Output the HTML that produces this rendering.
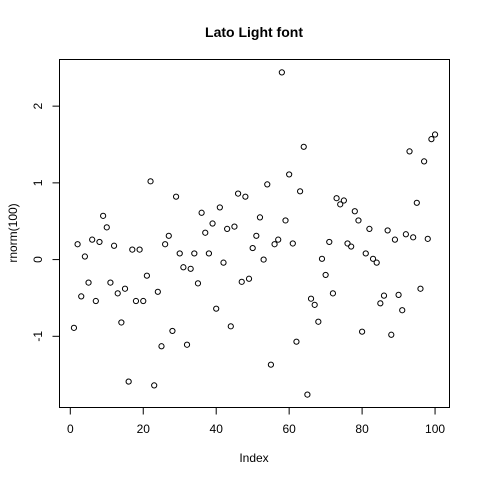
<!DOCTYPE html>
<html><head><meta charset="utf-8"><style>body{margin:0;background:#fff}svg{display:block}text{font-family:"Liberation Sans",Arial,sans-serif;fill:#000}</style></head>
<body>
<svg id="chart" width="480" height="480">
<rect width="480" height="480" fill="#fff"/>
<text x="254" y="37" text-anchor="middle" font-size="14" font-weight="bold">Lato Light font</text>
<rect x="59.5" y="59.5" width="390" height="348" fill="none" stroke="#000"/>
<text x="254" y="462" text-anchor="middle" font-size="12">Index</text>
<text transform="translate(17,233) rotate(-90)" text-anchor="middle" font-size="12">rnorm(100)</text>
<g id="axes"></g><g id="pts"></g>
</svg>
<script>
const values=[-0.89,0.2,-0.48,0.04,-0.3,0.26,-0.54,0.23,0.57,0.42,-0.3,0.18,-0.44,-0.82,-0.38,-1.59,0.13,-0.54,0.13,-0.54,-0.21,1.02,-1.64,-0.42,-1.13,0.2,0.31,-0.93,0.82,0.08,-0.1,-1.11,-0.12,0.08,-0.31,0.61,0.35,0.08,0.47,-0.64,0.68,-0.04,0.4,-0.87,0.43,0.86,-0.29,0.82,-0.25,0.15,0.31,0.55,0,0.98,-1.37,0.2,0.26,2.44,0.51,1.11,0.21,-1.07,0.89,1.47,-1.76,-0.51,-0.59,-0.81,0.01,-0.2,0.23,-0.44,0.8,0.72,0.77,0.21,0.17,0.63,0.51,-0.94,0.08,0.4,0.01,-0.04,-0.57,-0.47,0.38,-0.98,0.26,-0.46,-0.66,0.33,1.41,0.29,0.74,-0.38,1.28,0.27,1.57,1.63];
const xTicks=[0,20,40,60,80,100];
const yTicks=[-1,0,1,2];
const NS="http://www.w3.org/2000/svg";
const n=values.length;
const xmin=1-(n-1)*0.04,xmax=n+(n-1)*0.04;
const vmin=Math.min(...values),vmax=Math.max(...values),pad=(vmax-vmin)*0.04;
const ymin=vmin-pad,ymax=vmax+pad;
const X=v=>59.5+(v-xmin)/(xmax-xmin)*390;
const Y=v=>407.5-(v-ymin)/(ymax-ymin)*348;
const axes=document.getElementById('axes'),pts=document.getElementById('pts');
function mk(t,a,p){const e=document.createElementNS(NS,t);for(const k in a)e.setAttribute(k,a[k]);p.appendChild(e);return e;}
mk('line',{x1:X(xTicks[0]),x2:X(xTicks[xTicks.length-1]),y1:407.5,y2:407.5,stroke:'#000'},axes);
xTicks.forEach(t=>{
 const l=mk('line',{x1:X(t),x2:X(t),y1:407.5,y2:414.5,stroke:'#000'},axes);
 
 
 const tx=mk('text',{x:X(t),y:433,'text-anchor':'middle','font-size':12},axes);tx.textContent=t;
 
 
});
mk('line',{x1:59.5,x2:59.5,y1:Y(yTicks[0]),y2:Y(yTicks[yTicks.length-1]),stroke:'#000'},axes);
yTicks.forEach(t=>{
 const l=mk('line',{x1:52.5,x2:59.5,y1:Y(t),y2:Y(t),stroke:'#000'},axes);
 
 
 const tx=mk('text',{transform:`translate(42,${Y(t)}) rotate(-90)`,'text-anchor':'middle','font-size':12},axes);tx.textContent=t;
 
 
});
values.forEach((v,i)=>{
 const c=mk('circle',{cx:X(i+1),cy:Y(v),r:2.6,fill:'none',stroke:'#000','stroke-width':1},pts);
 
 
});
</script>
</body></html>
